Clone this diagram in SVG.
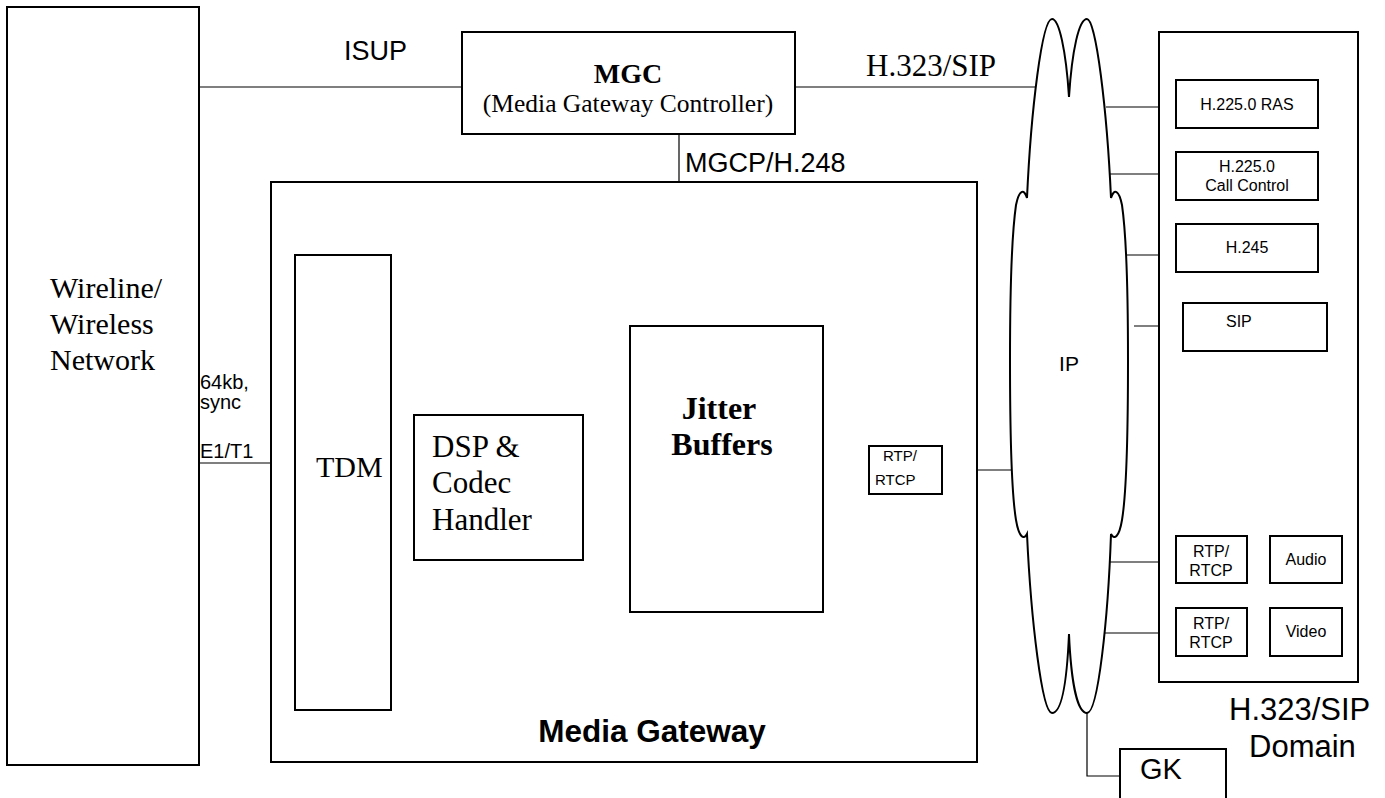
<svg xmlns="http://www.w3.org/2000/svg" width="1385" height="798" viewBox="0 0 1385 798">
<style>
.box{fill:#fff;stroke:#000;stroke-width:2}
.ln{fill:none;stroke:#000;stroke-width:1.2}
.serif{font-family:"Liberation Serif","Times New Roman",serif;fill:#000}
.sans{font-family:"Liberation Sans",Arial,sans-serif;fill:#000}
.small{font-family:"Liberation Sans",Arial,sans-serif;fill:#000;font-size:16px}
</style>
<rect width="1385" height="798" fill="#fff"/>
<g id="connectors">
<line class="ln" x1="199" y1="87" x2="462" y2="87"/>
<line class="ln" x1="795" y1="87" x2="1035" y2="87"/>
<line class="ln" x1="679" y1="134" x2="679" y2="182"/>
<line class="ln" x1="199" y1="463" x2="295" y2="463"/>
<line class="ln" x1="391" y1="465" x2="414" y2="465"/>
<line class="ln" x1="583" y1="463" x2="630" y2="463"/>
<line class="ln" x1="823" y1="470" x2="869" y2="470"/>
<line class="ln" x1="951" y1="470" x2="1012" y2="470"/>
<line class="ln" x1="1106" y1="107" x2="1176" y2="107"/>
<line class="ln" x1="1110" y1="174" x2="1176" y2="174"/>
<line class="ln" x1="1127" y1="255" x2="1176" y2="255"/>
<line class="ln" x1="1134" y1="326" x2="1183" y2="326" stroke-width="2"/>
<line class="ln" x1="1110" y1="562" x2="1176" y2="562"/>
<line class="ln" x1="1105" y1="633" x2="1176" y2="633"/>
<line class="ln" x1="1247" y1="561" x2="1270" y2="561"/>
<line class="ln" x1="1247" y1="632" x2="1270" y2="632"/>
<polyline class="ln" points="1087,711 1087,776 1120,776"/>
</g>
<g id="wireline">
<rect class="box" x="7" y="7" width="192" height="758"/>
<text class="serif" font-size="30" x="50" y="298">Wireline/</text>
<text class="serif" font-size="30" x="50" y="334">Wireless</text>
<text class="serif" font-size="30" x="50" y="370">Network</text>
</g>
<g id="labels">
<text class="sans" font-size="27" x="344" y="60">ISUP</text>
<text class="serif" font-size="31" x="866" y="76">H.323/SIP</text>
<text class="sans" font-size="27" x="685" y="172">MGCP/H.248</text>
<text class="sans" font-size="20" x="200" y="389">64kb,</text>
<text class="sans" font-size="20" x="200" y="409">sync</text>
<text class="sans" font-size="20" x="200" y="458">E1/T1</text>
<text class="sans" font-size="31" x="1229" y="720">H.323/SIP</text>
<text class="sans" font-size="31" x="1249" y="757">Domain</text>
</g>
<g id="mgc">
<rect class="box" x="462" y="32" width="333" height="102"/>
<text class="serif" font-size="28" font-weight="bold" x="628" y="83" text-anchor="middle">MGC</text>
<text class="serif" font-size="25.5" x="628" y="112" text-anchor="middle">(Media Gateway Controller)</text>
</g>
<g id="media-gateway">
<rect class="box" x="271" y="182" width="706" height="580"/>
<text class="sans" font-size="31.5" font-weight="bold" x="652" y="742" text-anchor="middle">Media Gateway</text>
</g>
<g id="tdm">
<rect class="box" x="295" y="255" width="96" height="455"/>
<text class="serif" font-size="30" x="316" y="477">TDM</text>
</g>
<g id="dsp">
<rect class="box" x="414" y="415" width="169" height="145"/>
<text class="serif" font-size="31" x="432" y="457">DSP &amp;</text>
<text class="serif" font-size="31" x="432" y="493">Codec</text>
<text class="serif" font-size="31" x="432" y="530">Handler</text>
</g>
<g id="jitter">
<rect class="box" x="630" y="326" width="193" height="286"/>
<text class="serif" font-size="32" font-weight="bold" x="719" y="419" text-anchor="middle">Jitter</text>
<text class="serif" font-size="32" font-weight="bold" x="722" y="455" text-anchor="middle">Buffers</text>
</g>
<g id="rtp-gw">
<rect class="box" x="869" y="446" width="73" height="48" stroke-width="1.5"/>
<text class="sans" font-size="15" x="883" y="461">RTP/</text>
<text class="sans" font-size="15" x="875" y="485">RTCP</text>
</g>
<g id="ip-cloud">
<path fill="#fff" stroke="#000" stroke-width="2" d="M1069,97 C1066,50 1059,19 1052,19 C1042,19 1031,110 1027,198 C1024,188 1019,190 1016,205 C1011,240 1010,300 1010,360 C1010,430 1011,490 1016,520 C1019,538 1024,540 1027,534 C1031,620 1042,713 1052,713 C1062,713 1067,680 1069,634 C1071,680 1077,713 1087,713 C1098,713 1108,620 1111,534 C1114,540 1119,538 1122,520 C1127,490 1128,430 1128,360 C1128,300 1127,240 1122,205 C1119,190 1114,188 1111,198 C1107,110 1096,19 1087,19 C1079,19 1072,50 1069,97 Z"/>
<text class="sans" font-size="21" x="1069" y="371" text-anchor="middle">IP</text>
</g>
<g id="domain">
<rect class="box" x="1159" y="32" width="199" height="650"/>
</g>
<g id="ras">
<rect class="box" x="1176" y="80" width="142" height="48"/>
<text class="small" x="1247" y="110" text-anchor="middle">H.225.0 RAS</text>
</g>
<g id="callcontrol">
<rect class="box" x="1176" y="152" width="142" height="48"/>
<text class="small" x="1247" y="172" text-anchor="middle">H.225.0</text>
<text class="small" x="1247" y="191" text-anchor="middle">Call Control</text>
</g>
<g id="h245">
<rect class="box" x="1176" y="224" width="142" height="48"/>
<text class="small" x="1247" y="253" text-anchor="middle">H.245</text>
</g>
<g id="sip">
<rect class="box" x="1183" y="303" width="144" height="48"/>
<text class="small" x="1226" y="327">SIP</text>
</g>
<g id="rtp-audio">
<rect class="box" x="1176" y="536" width="71" height="47"/>
<text class="small" x="1211" y="557" text-anchor="middle">RTP/</text>
<text class="small" x="1211" y="576" text-anchor="middle">RTCP</text>
</g>
<g id="audio">
<rect class="box" x="1270" y="536" width="72" height="47"/>
<text class="small" x="1306" y="565" text-anchor="middle">Audio</text>
</g>
<g id="rtp-video">
<rect class="box" x="1176" y="608" width="71" height="48"/>
<text class="small" x="1211" y="629" text-anchor="middle">RTP/</text>
<text class="small" x="1211" y="648" text-anchor="middle">RTCP</text>
</g>
<g id="video">
<rect class="box" x="1270" y="608" width="72" height="48"/>
<text class="small" x="1306" y="637" text-anchor="middle">Video</text>
</g>
<g id="gk">
<rect class="box" x="1120" y="749" width="106" height="60"/>
<text class="sans" font-size="29" x="1140" y="779">GK</text>
</g>
</svg>
